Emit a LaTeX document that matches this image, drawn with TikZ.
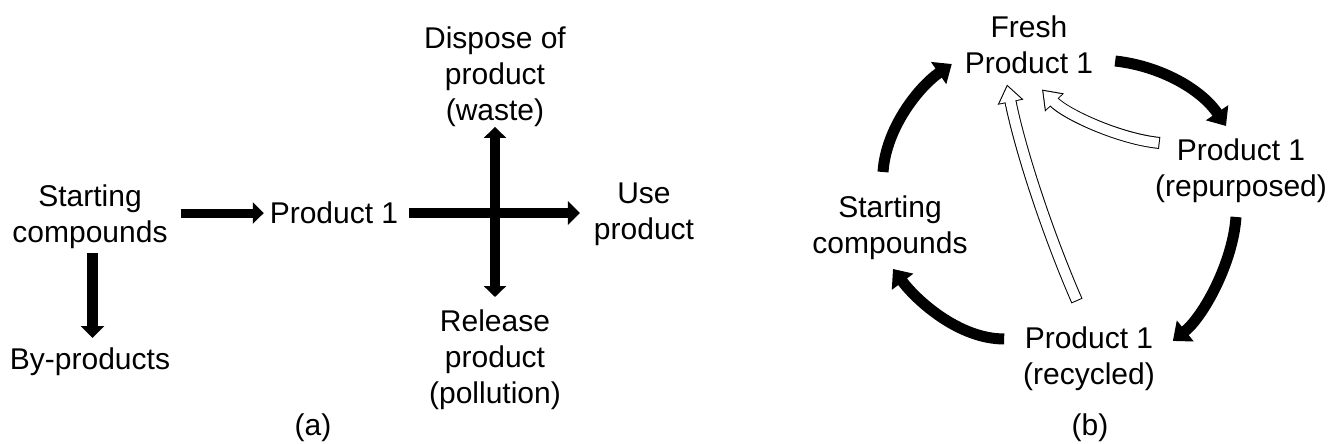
\documentclass[tikz,border=0pt]{standalone}
\usepackage{fontspec}
\setmainfont{Liberation Sans}
\usetikzlibrary{arrows.meta,calc}
\begin{document}
\begin{tikzpicture}[x=1pt,y=-1pt,
  lbl/.style={inner sep=0pt, outer sep=0pt, align=center, anchor=north,
    font=\fontsize{30}{36}\selectfont},
  thinblk/.style={line width=9pt, -{Triangle[length=11pt,width=21pt]}},
  blk/.style={line width=10.5pt, -{Triangle[length=12pt,width=23pt]}},
  blkboth/.style={line width=10.5pt, {Triangle[length=11pt,width=22pt]}-{Triangle[length=11pt,width=22pt]}},
  arcb/.style={line width=11pt, -{Triangle[length=16pt,width=26pt]}},
  openout/.style={line width=12pt, -{Triangle[length=18pt,width=25pt]}},
  openin/.style={white, line width=10pt, -{Triangle[length=15.3pt,width=21.2pt]},
    shorten >=1.8pt, shorten <=1pt}]
\useasboundingbox (0,0) rectangle (1331,444);

% ---------- panel (a) ----------
\node[lbl] (sc)   at (90,185)  {Starting\\compounds};
\node[lbl] (bp)   at (90,348)  {By-products};
\node[lbl] (p1)   at (334,202) {Product 1};
\node[lbl] (disp) at (495,27)  {Dispose of\\product\\(waste)};
\node[lbl] (use)  at (644,183) {Use\\product};
\node[lbl] (rel)  at (495,310) {Release\\product\\(pollution)};
\node[lbl] (la)   at (313,414) {(a)};

\draw[thinblk] ([xshift=13pt]sc.east |- p1.west) -- ([shift={(-6,0)}]p1.west);
\draw[blk] ([shift={(11,0)}]p1.east) -- ([shift={(-14,0)}]use.west |- p1.east);
\draw[blkboth] ([shift={(0,0)}]disp.south) -- ([shift={(0,-13)}]rel.north);
\draw[blk] ([shift={(2.5,4)}]sc.south) -- ([shift={(2.5,-10)}]bp.north);

% ---------- panel (b) ----------
\node[lbl] (fresh) at (1029,16)  {Fresh\\Product 1};
\node[lbl] (rep)   at (1241,139) {Product 1\\(repurposed)};
\node[lbl] (rec)   at (1089,327) {Product 1\\(recycled)};
\node[lbl] (sb)    at (890,196)  {Starting\\compounds};
\node[lbl] (lb)    at (1090,414) {(b)};

\draw[arcb] ([shift={(22,16)}]fresh.east) .. controls +(45,5) and +(-25,-37) .. ([shift={(-15,-13)}]rep.north);
\draw[arcb] ([shift={(-5,14)}]rep.south) .. controls +(-3,45) and +(31,-25) .. ([shift={(18,-18)}]rec.east);
\draw[arcb] ([shift={(-19,-20)}]rec.west) .. controls +(-45,0) and +(24,32) .. ([shift={(3,9)}]sb.south);
\draw[arcb] ([shift={(-7,-24)}]sb.north) .. controls +(3,-45) and +(-32,22) .. ([shift={(-13,19)}]fresh.west);

% open arrows
\draw[openout] ([shift={(-12,-26)}]rec.north) .. controls +(-28,-64) and +(14,69) .. ([shift={(-22,10.5)}]fresh.south);
\draw[openin]  ([shift={(-12,-26)}]rec.north) .. controls +(-28,-64) and +(14,69) .. ([shift={(-22,10.5)}]fresh.south);
\draw[openout] ([shift={(4.5,-28)}]rep.west) .. controls +(-40,-4) and +(24,25) .. ([shift={(13,15.5)}]fresh.south);
\draw[openin]  ([shift={(4.5,-28)}]rep.west) .. controls +(-40,-4) and +(24,25) .. ([shift={(13,15.5)}]fresh.south);
\end{tikzpicture}
\end{document}
